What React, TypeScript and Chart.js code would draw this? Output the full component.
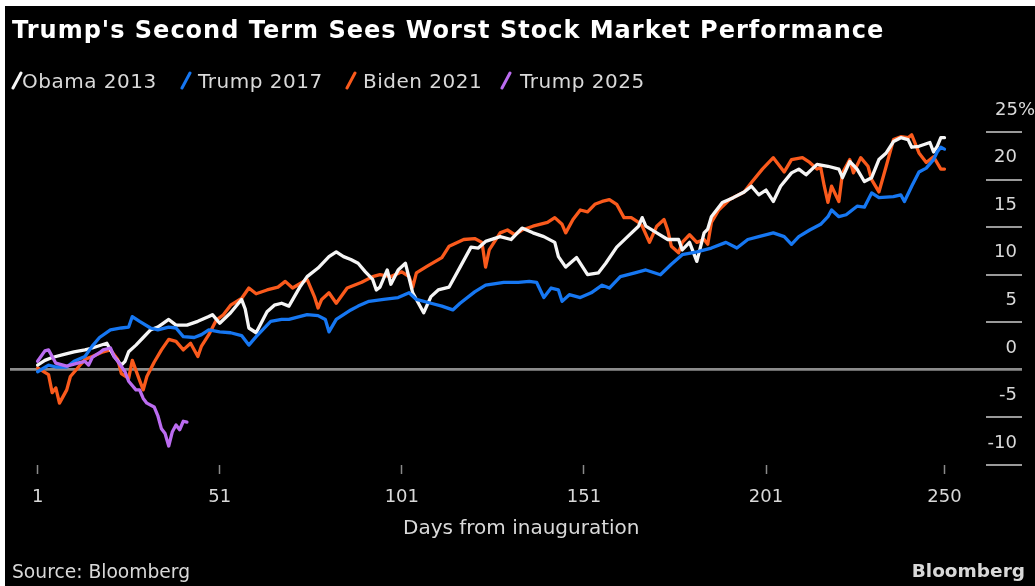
import React, { useEffect, useRef } from 'react';
import { Chart, registerables } from 'chart.js';

Chart.register(...registerables);

// ---------- DATA ----------
const seriesNames = ['Obama 2013', 'Trump 2017', 'Biden 2021', 'Trump 2025'];
const seriesColors = ['#f5f5f5', '#1677f2', '#fa5a1c', '#bb6cf0'];

const obamaDays = [1, 3, 5, 8, 11, 14, 16, 20, 22, 24, 25, 26, 28, 30, 32, 34, 37, 39, 42, 45, 48, 49, 51, 54, 57, 58, 59, 61, 64, 66, 68, 70, 73, 75, 78, 81, 83, 85, 87, 89, 91, 93, 94, 95, 97, 98, 100, 102, 104, 107, 109, 111, 114, 117, 120, 122, 124, 128, 131, 134, 137, 140, 143, 144, 146, 149, 152, 155, 157, 160, 163, 166, 167, 168, 171, 174, 177, 178, 180, 182, 184, 185, 186, 189, 192, 195, 197, 199, 201, 203, 205, 208, 210, 212, 215, 218, 221, 222, 224, 226, 228, 230, 232, 234, 236, 238, 240, 241, 243, 246, 247, 248, 249, 250];
const obamaValues = [0.5, 1.0, 1.3, 1.6, 1.9, 2.1, 2.3, 2.8, 1.4, 0.5, 0.9, 1.9, 2.6, 3.4, 4.2, 4.5, 5.3, 4.7, 4.7, 5.1, 5.6, 5.8, 4.9, 6.0, 7.4, 6.4, 4.4, 3.9, 6.1, 6.8, 7.0, 6.7, 8.7, 9.8, 10.7, 11.9, 12.4, 11.9, 11.6, 11.2, 10.3, 9.5, 8.4, 8.7, 10.5, 9.0, 10.5, 11.2, 8.1, 6.0, 7.7, 8.4, 8.7, 10.8, 12.9, 12.8, 13.5, 14.0, 13.7, 14.9, 14.4, 14.0, 13.4, 11.9, 10.8, 11.8, 10.0, 10.2, 11.2, 12.9, 14.0, 15.1, 16.0, 15.1, 14.4, 13.7, 13.7, 12.6, 13.4, 11.4, 14.4, 14.8, 16.1, 17.6, 18.1, 18.7, 19.3, 18.4, 18.9, 17.7, 19.3, 20.7, 21.1, 20.5, 21.6, 21.4, 21.1, 20.2, 21.9, 21.1, 19.8, 20.2, 22.1, 22.8, 24.0, 24.4, 24.2, 23.4, 23.5, 23.9, 22.9, 23.5, 24.4, 24.4];

const trump2017Days = [1, 4, 6, 9, 11, 14, 16, 18, 21, 24, 26, 27, 29, 32, 34, 37, 39, 41, 44, 46, 48, 51, 54, 57, 59, 61, 65, 68, 70, 75, 78, 80, 81, 83, 87, 89, 92, 96, 100, 103, 105, 109, 112, 115, 117, 121, 124, 129, 133, 136, 138, 140, 142, 144, 145, 147, 150, 153, 156, 158, 161, 165, 168, 172, 175, 178, 182, 186, 190, 193, 196, 199, 203, 206, 208, 210, 213, 216, 218, 219, 221, 223, 226, 228, 230, 232, 236, 238, 239, 241, 243, 245, 247, 248, 249, 250];
const trump2017Values = [-0.2, 0.5, 0.3, 0.3, 0.9, 1.4, 2.5, 3.4, 4.2, 4.4, 4.5, 5.6, 5.1, 4.4, 4.2, 4.5, 4.4, 3.5, 3.4, 3.7, 4.2, 4.0, 3.9, 3.6, 2.6, 3.5, 5.1, 5.3, 5.3, 5.8, 5.7, 5.3, 4.0, 5.3, 6.3, 6.7, 7.2, 7.4, 7.6, 8.1, 7.4, 7.0, 6.7, 6.3, 7.0, 8.2, 8.9, 9.2, 9.2, 9.3, 9.2, 7.6, 8.6, 8.4, 7.2, 7.9, 7.6, 8.1, 8.9, 8.6, 9.8, 10.2, 10.5, 10.0, 11.1, 12.1, 12.4, 12.8, 13.4, 12.8, 13.7, 14.0, 14.4, 14.0, 13.2, 14.0, 14.7, 15.3, 16.1, 16.8, 16.1, 16.3, 17.2, 17.1, 18.6, 18.1, 18.2, 18.4, 17.7, 19.3, 20.8, 21.2, 22.1, 22.9, 23.4, 23.2];

const biden2021Days = [1, 4, 5, 6, 7, 9, 10, 12, 14, 16, 19, 21, 23, 24, 26, 27, 29, 30, 31, 33, 35, 37, 39, 41, 43, 45, 46, 48, 50, 52, 54, 57, 59, 61, 64, 67, 69, 71, 75, 77, 78, 79, 81, 83, 86, 90, 93, 95, 98, 101, 103, 104, 105, 108, 112, 114, 118, 121, 123, 124, 125, 128, 130, 132, 134, 137, 141, 143, 145, 146, 148, 150, 152, 154, 156, 158, 160, 162, 164, 166, 167, 169, 171, 173, 174, 175, 177, 178, 180, 182, 184, 185, 186, 188, 191, 195, 197, 200, 203, 206, 208, 211, 213, 215, 216, 217, 218, 219, 221, 222, 224, 225, 227, 229, 230, 232, 234, 236, 238, 240, 241, 243, 245, 247, 249, 250];
const biden2021Values = [0.2, -0.5, -2.4, -1.9, -3.5, -2.1, -0.7, 0.2, 1.1, 1.4, 1.9, 2.1, 1.1, -0.4, -0.9, 1.0, -1.1, -2.1, -0.7, 0.8, 2.1, 3.2, 3.0, 2.1, 2.8, 1.4, 2.5, 3.7, 5.2, 5.8, 6.8, 7.5, 8.6, 8.0, 8.4, 8.7, 9.3, 8.6, 9.5, 7.7, 6.5, 7.4, 8.1, 7.0, 8.6, 9.2, 9.8, 10.0, 9.8, 10.3, 9.8, 8.7, 10.2, 10.9, 11.8, 13.0, 13.7, 13.8, 13.4, 10.8, 12.6, 14.4, 14.7, 14.2, 14.7, 15.1, 15.5, 16.0, 15.3, 14.4, 15.8, 16.8, 16.6, 17.4, 17.7, 17.9, 17.4, 16.0, 16.0, 15.5, 15.1, 13.4, 15.1, 15.8, 14.7, 13.0, 12.3, 13.4, 14.2, 13.4, 13.7, 13.2, 15.5, 16.8, 17.9, 18.7, 19.7, 21.1, 22.3, 20.8, 22.1, 22.3, 21.8, 21.1, 21.3, 19.3, 17.6, 19.3, 17.7, 20.7, 22.1, 20.7, 22.3, 21.4, 20.0, 18.7, 21.4, 24.2, 24.5, 24.4, 24.7, 22.8, 21.8, 22.4, 21.1, 21.1];

const trump2025Days = [1, 3, 4, 5, 6, 8, 9, 10, 12, 14, 15, 16, 18, 19, 21, 22, 23, 25, 26, 28, 29, 30, 31, 33, 34, 35, 36, 37, 38, 39, 40, 41, 42];
const trump2025Values = [0.9, 2.0, 2.1, 1.4, 0.7, 0.5, 0.4, 0.5, 0.7, 0.9, 0.5, 1.3, 1.8, 2.1, 2.3, 1.4, 0.9, -0.2, -1.2, -2.1, -2.1, -3.0, -3.5, -3.9, -4.8, -6.2, -6.7, -8.0, -6.5, -5.8, -6.3, -5.4, -5.5];

const xTickValues = [1, 51, 101, 151, 201, 250];
const yMin = -10;
const yMax = 25;
const yStep = 5;

const allDays = [obamaDays, trump2017Days, biden2021Days, trump2025Days];
const allValues = [obamaValues, trump2017Values, biden2021Values, trump2025Values];
// draw order: purple on top, then blue, white, orange
const drawOrder = [2, 1, 3, 0];

const titleText = "Trump's Second Term Sees Worst Stock Market Performance";
const xAxisTitle = 'Days from inauguration';
const sourceText = 'Source: Bloomberg';
const brandText = 'Bloomberg';

const legendPos = [
  { slash: 11, text: 22 },
  { slash: 180, text: 198 },
  { slash: 345, text: 363 },
  { slash: 500, text: 520 },
];

const AXIS_FONT = '"DejaVu Sans", Verdana, sans-serif';
const SPACER = '\u2003';

function yLabel(v: number): string {
  return v === yMax ? `${v}%` : `${v}${SPACER}`;
}

export default function App() {
  const canvasRef = useRef<HTMLCanvasElement>(null);

  useEffect(() => {
    const canvas = canvasRef.current;
    if (!canvas) return;

    // measure widest y label so that the labels end where the reference puts them
    const mctx = document.createElement('canvas').getContext('2d')!;
    mctx.font = `18px ${AXIS_FONT}`;
    let widest = 0;
    for (let v = yMin; v <= yMax; v += yStep) {
      widest = Math.max(widest, mctx.measureText(yLabel(v)).width);
    }
    const yTickPadding = 18 - widest;

    const datasets = seriesNames.map((name, i) => ({
      label: name,
      data: allDays[i].map((d, j) => ({ x: d, y: allValues[i][j] })),
      borderColor: seriesColors[i],
      backgroundColor: seriesColors[i],
      borderWidth: 3.3,
      pointRadius: 0,
      tension: 0,
      borderJoinStyle: 'round' as const,
      borderCapStyle: 'round' as const,
      order: drawOrder[i],
      fill: false,
    }));

    const chart = new Chart(canvas, {
      type: 'line',
      data: { datasets },
      options: {
        animation: false,
        responsive: false,
        maintainAspectRatio: false,
        layout: { padding: { left: 10, top: 132, right: 0, bottom: 46 } },
        plugins: {
          legend: { display: false },
          title: { display: false },
          tooltip: { enabled: false },
        },
        scales: {
          x: {
            type: 'linear',
            min: -6.58,
            max: 261.4,
            afterBuildTicks: (scale: any) => {
              scale.ticks = xTickValues.map((v) => ({ value: v }));
            },
            afterFit: (scale: any) => {
              scale.height = 75;
            },
            border: { display: false },
            grid: {
              drawOnChartArea: false,
              drawTicks: true,
              tickLength: 9,
              tickColor: '#8a8a8a',
              tickWidth: 1.5,
            },
            ticks: {
              autoSkip: false,
              maxRotation: 0,
              padding: 13,
              color: '#d9d9d9',
              font: { family: AXIS_FONT, size: 18 },
              callback: (v: any) => String(v),
            },
            title: { display: false },
          },
          y: {
            type: 'linear',
            position: 'right',
            min: yMin,
            max: yMax,
            afterFit: (scale: any) => {
              scale.width = 49;
            },
            border: { display: false },
            grid: {
              drawOnChartArea: true,
              drawTicks: true,
              tickLength: 36,
              color: (ctx: any) => (ctx.tick && ctx.tick.value === 0 ? '#8c8c8c' : 'rgba(0,0,0,0)'),
              lineWidth: (ctx: any) => (ctx.tick && ctx.tick.value === 0 ? 2.8 : 0),
              tickColor: (ctx: any) => (ctx.tick && ctx.tick.value === 0 ? '#8c8c8c' : '#9a9a9a'),
              tickWidth: (ctx: any) => (ctx.tick && ctx.tick.value === 0 ? 2.8 : 2),
            },
            ticks: {
              stepSize: yStep,
              crossAlign: 'far',
              padding: yTickPadding,
              labelOffset: -22,
              color: '#d9d9d9',
              font: { family: AXIS_FONT, size: 18 },
              callback: (v: any) => yLabel(Number(v)),
            },
          },
        },
      },
    });
    return () => chart.destroy();
  }, []);

  const textColor = '#d9d9d9';

  return (
    <div style={{ position: 'fixed', left: 0, top: 0, width: 1035, height: 586, background: '#ffffff', overflow: 'hidden' }}>
      <div style={{ position: 'absolute', left: 5, top: 6, right: 0, bottom: 0, background: '#000000' }} />
      <canvas ref={canvasRef} width={1035} height={586} style={{ position: 'absolute', left: 0, top: 0, width: 1035, height: 586, display: 'block' }} />
      <div style={{ position: 'absolute', left: 12, top: 18, color: '#ffffff', fontFamily: AXIS_FONT, fontWeight: 'bold', fontSize: 24, lineHeight: '24px', letterSpacing: '1px', whiteSpace: 'nowrap' }}>
        {titleText}
      </div>
      {seriesNames.map((name, i) => (
        <React.Fragment key={name}>
          <svg style={{ position: 'absolute', left: legendPos[i].slash, top: 71 }} width={12} height={19}>
            <line x1={2} y1={17} x2={10} y2={2} stroke={seriesColors[i]} strokeWidth={3} strokeLinecap="round" />
          </svg>
          <div style={{ position: 'absolute', left: legendPos[i].text, top: 71, color: textColor, fontFamily: AXIS_FONT, fontSize: 20, lineHeight: '20px', letterSpacing: '0.5px', whiteSpace: 'nowrap' }}>
            {name}
          </div>
        </React.Fragment>
      ))}
      <div style={{ position: 'absolute', left: 403, top: 517, color: textColor, fontFamily: AXIS_FONT, fontSize: 20, lineHeight: '20px', whiteSpace: 'nowrap' }}>
        {xAxisTitle}
      </div>
      <div style={{ position: 'absolute', left: 12, top: 562, color: textColor, fontFamily: AXIS_FONT, fontSize: 18.7, lineHeight: '19px', whiteSpace: 'nowrap' }}>
        {sourceText}
      </div>
      <div style={{ position: 'absolute', right: 10, top: 561, color: textColor, fontFamily: AXIS_FONT, fontWeight: 'bold', fontSize: 18.5, lineHeight: '20px', whiteSpace: 'nowrap' }}>
        {brandText}
      </div>
    </div>
  );
}
